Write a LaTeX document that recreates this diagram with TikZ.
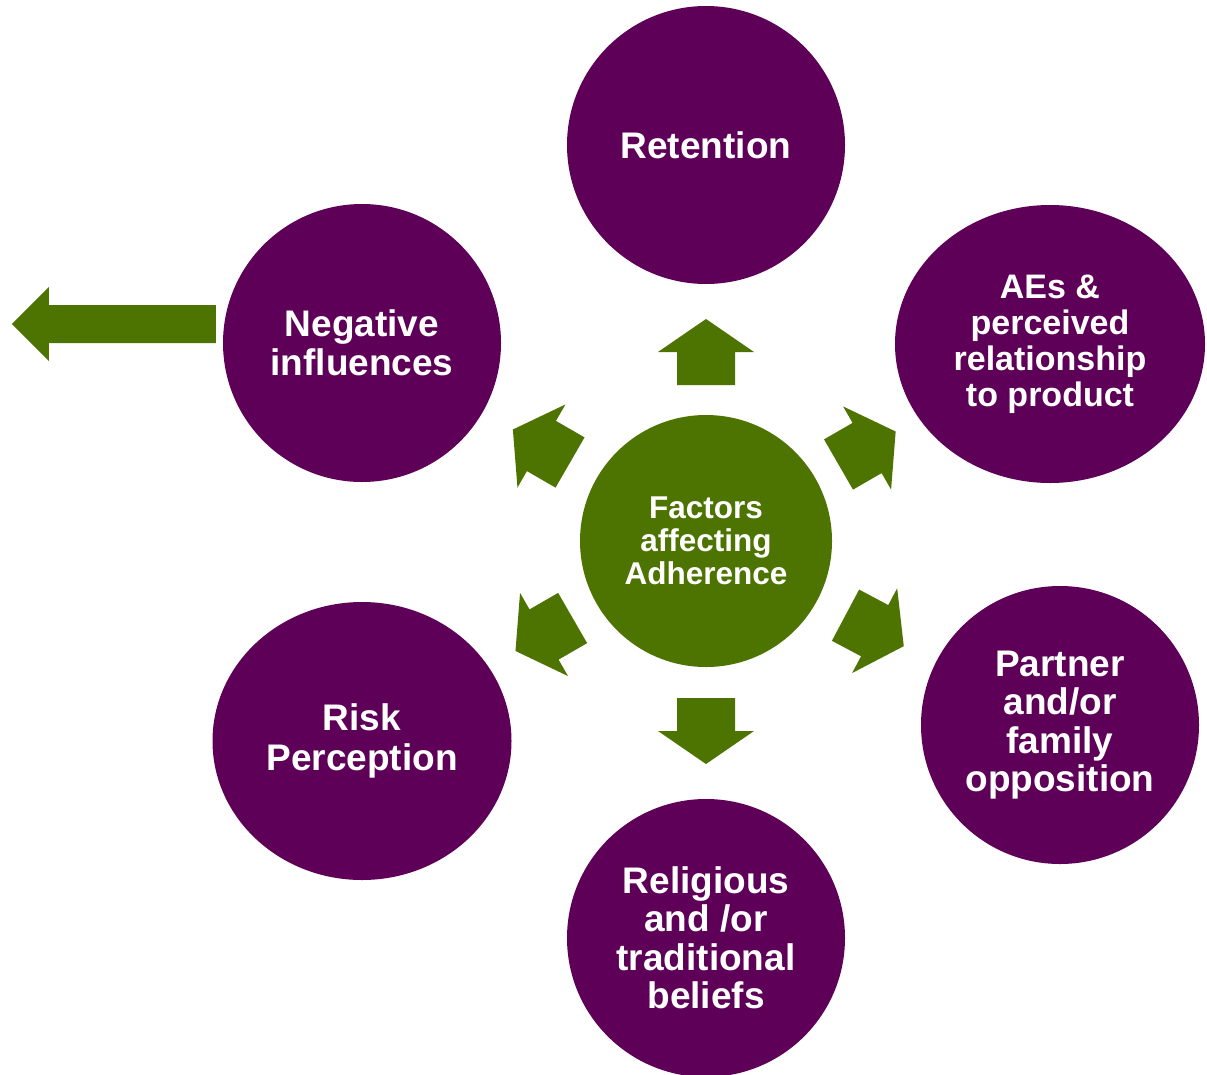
\documentclass[tikz,border=0pt]{standalone}
\usepackage{fontspec}
\setmainfont{Liberation Sans}
\usetikzlibrary{shapes.geometric,calc}
\definecolor{plum}{HTML}{5F0058}
\definecolor{olive}{HTML}{4D7300}
\begin{document}
\begin{tikzpicture}[x=1pt,y=1pt,
  factor/.style={fill=plum,text=white,inner sep=0pt,align=center,
    font=\bfseries\fontsize{37}{38.5}\selectfont},
  roundf/.style={factor,circle,minimum size=278pt},
  ovalf/.style={factor,ellipse,minimum height=278pt},
  hub/.style={circle,fill=olive,text=white,inner sep=0pt,minimum size=252pt,align=center,
    font=\bfseries\fontsize{31.5}{33}\selectfont},
  fatarrow/.pic={\fill[olive] (-33,-29) -- (0,-29) -- (0,-48) -- (33,0) -- (0,48) -- (0,29) -- (-33,29) -- cycle;}
]
\useasboundingbox (0,0) rectangle (1207,-1074);
\node[hub] (c) at (706,-541) {Factors\\affecting\\Adherence};
\node[roundf] (ret) at (706,-145) {Retention};
\node[ovalf,minimum width=310pt,font=\bfseries\fontsize{34}{36}\selectfont] (ae) at (1050,-344) {AEs \&\\perceived\\relationship\\to product};
\node[roundf] (neg) at (362,-343) {Negative\\influences};
\node[ovalf,minimum width=299pt,font=\bfseries\fontsize{37}{40}\selectfont] (risk) at (362,-741) {Risk\\Perception};
\node[roundf] (par) at (1060,-725) {Partner\\and/or\\family\\opposition};
\node[roundf] (rel) at (706,-938) {Religious\\and /or\\traditional\\beliefs};
\pic[rotate=90] at ($(c)+(90:189)$) {fatarrow};
\pic[rotate=-90] at ($(c)+(-90:190)$) {fatarrow};
\pic[rotate=30] at ($(c)+(30:186)$) {fatarrow};
\pic[rotate=150] at ($(c)+(150:190)$) {fatarrow};
\pic[rotate=210] at ($(c)+(210:187)$) {fatarrow};
\pic[rotate=-28] at ($(c)+(-28:191)$) {fatarrow};
\coordinate (lt) at ($(neg.west)+(-7,38)$);
\fill[olive] (lt) -- ++(-167,0) -- ++(0,18) -- ++(-37,-37) -- ++(37,-37) -- ++(0,18) -- ++(167,0) -- cycle;
\end{tikzpicture}
\end{document}
